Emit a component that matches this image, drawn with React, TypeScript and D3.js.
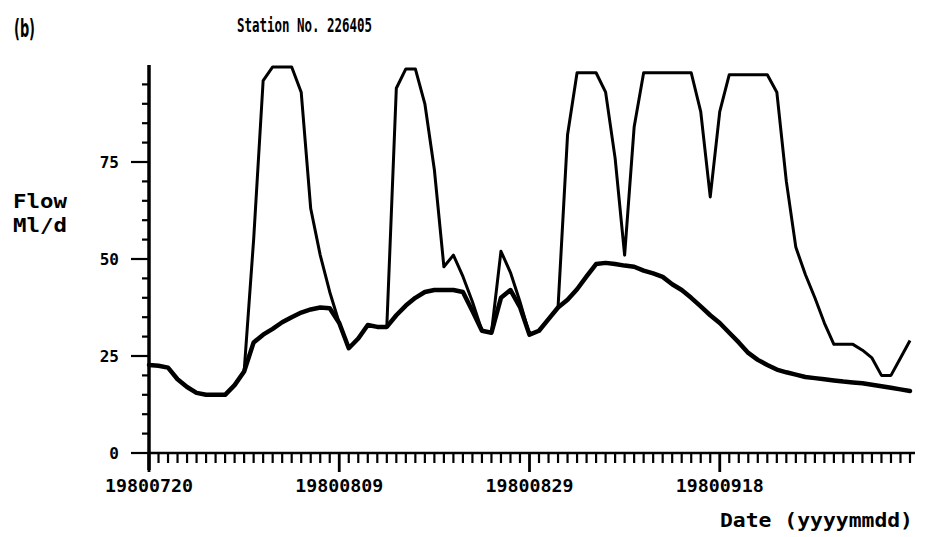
import React from "react";
import * as d3 from "d3";

// Daily flow record, Station No. 226405, starting 1980-07-20
const START_DATE = "19800720";
const TICK_LABELS = ["19800720", "19800809", "19800829", "19800918"];
const Y_LABELS = [0, 25, 50, 75];

// Lower (thick) series, Ml/d, one value per day
const baseFlow = [
  22.7, 22.5, 22, 19, 17, 15.5, 15, 15, 15, 17.5,
  21, 28.5, 30.5, 32, 33.7, 35, 36.2, 37, 37.5, 37.3,
  33.5, 27, 29.5, 33, 32.5, 32.5, 35.5, 38, 40, 41.5,
  42, 42, 42, 41.5, 36.6, 31.5, 31, 40, 42, 37.6,
  30.5, 31.5, 34.5, 37.5, 39.5, 42.2, 45.5, 48.7, 49, 48.7,
  48.3, 48, 47, 46.3, 45.4, 43.5, 42, 40, 37.8, 35.5,
  33.5, 31, 28.5, 25.8, 24, 22.7, 21.5, 20.8, 20.2, 19.6,
  19.3, 19, 18.7, 18.4, 18.2, 18, 17.6, 17.2, 16.8, 16.4,
  16,
];

// Upper (thin) series, Ml/d, one value per day
const totalFlow = [
  22.7, 22.5, 22, 19, 17, 15.5, 15, 15, 15, 17.5,
  21, 55, 96, 99.5, 99.5, 99.5, 93, 63, 51, 41.5,
  33.5, 27, 29.5, 33, 32.5, 32.5, 94, 99, 99, 90,
  73, 48, 51, 45.5, 39, 31.5, 31, 52, 46.5, 39,
  30.5, 31.5, 34.5, 37.5, 82, 98, 98, 98, 93, 76,
  51, 84, 98, 98, 98, 98, 98, 98, 88, 66,
  88, 97.5, 97.5, 97.5, 97.5, 97.5, 93, 70, 53, 46,
  40, 33.5, 28, 28, 28, 26.5, 24.5, 20, 20, 24.5,
  29,
];

const W = 926;
const H = 537;
const FONT = "'DejaVu Sans Mono', monospace";

export default function App() {
  const parse = d3.utcParse("%Y%m%d");
  const start = parse(START_DATE) as Date;
  const dates = baseFlow.map((_, i) => d3.utcDay.offset(start, i));
  const end = dates[dates.length - 1];

  const x = d3.scaleUtc().domain([start, end]).range([149, 910]);
  const y = d3.scaleLinear().domain([0, 100]).range([453, 65]);

  const line = d3
    .line<number>()
    .x((_, i) => x(dates[i]))
    .y((v) => y(v));

  const days = d3.utcDay.range(start, d3.utcDay.offset(end, 1));
  const majorDates = TICK_LABELS.map((s) => parse(s) as Date);
  const isMajor = (d: Date) => majorDates.some((m) => +m === +d);
  const yMinor = d3.range(0, 100, 5);

  const x0 = x(start);
  const yBase = y(0);

  return (
    <svg
      width={W}
      height={H}
      style={{ position: "absolute", left: 0, top: 0, background: "#fff" }}
    >
      <rect width={W} height={H} fill="#fff" />

      {/* Panel letter and title */}
      <text x={14} y={37} fontFamily="'DejaVu Sans', sans-serif" fontWeight="bold" fontSize={25} textLength={21} lengthAdjust="spacingAndGlyphs" fill="#000">
        (b)
      </text>
      <text x={237} y={32} fontFamily={FONT} fontWeight="bold" fontSize={20} textLength={135} lengthAdjust="spacingAndGlyphs" fill="#000">
        Station No. 226405
      </text>

      {/* Y axis title */}
      <text x={13} y={208} fontFamily={FONT} fontWeight="bold" fontSize={19} textLength={54} lengthAdjust="spacingAndGlyphs" fill="#000">
        Flow
      </text>
      <text x={13} y={232} fontFamily={FONT} fontWeight="bold" fontSize={19} textLength={54} lengthAdjust="spacingAndGlyphs" fill="#000">
        Ml/d
      </text>

      {/* Y axis */}
      <line x1={x0} x2={x0} y1={y(100)} y2={yBase + 17} stroke="#000" strokeWidth={3.5} />
      {yMinor.map((v) => {
        const major = Y_LABELS.includes(v);
        return (
          <line
            key={`yt${v}`}
            x1={x0}
            x2={x0 - (major ? 18 : 7)}
            y1={y(v)}
            y2={y(v)}
            stroke="#000"
            strokeWidth={2.2}
          />
        );
      })}
      {Y_LABELS.map((v) => (
        <text
          key={`yl${v}`}
          x={119}
          y={y(v) + 6}
          textAnchor="end"
          fontFamily={FONT}
          fontWeight="bold"
          fontSize={16}
          fill="#000"
        >
          {v}
        </text>
      ))}

      {/* X axis */}
      <line x1={x0} x2={915} y1={yBase} y2={yBase} stroke="#000" strokeWidth={2.5} />
      {days.map((d, i) => {
        const major = isMajor(d);
        return (
          <line
            key={`xt${i}`}
            x1={x(d)}
            x2={x(d)}
            y1={yBase}
            y2={yBase + (major ? 19 : 10)}
            stroke="#000"
            strokeWidth={major ? 2.8 : 2.2}
          />
        );
      })}
      {TICK_LABELS.map((s, i) => (
        <text
          key={`xl${s}`}
          x={x(majorDates[i])}
          y={492}
          textAnchor="middle"
          fontFamily={FONT}
          fontWeight="bold"
          fontSize={17}
          textLength={88}
          lengthAdjust="spacingAndGlyphs"
          fill="#000"
        >
          {s}
        </text>
      ))}
      <text x={720} y={527} fontFamily={FONT} fontWeight="bold" fontSize={20} textLength={193} lengthAdjust="spacingAndGlyphs" fill="#000">
        Date (yyyymmdd)
      </text>

      {/* Flow series */}
      <path d={line(totalFlow) ?? ""} fill="none" stroke="#000" strokeWidth={3} strokeLinejoin="round" />
      <path d={line(baseFlow) ?? ""} fill="none" stroke="#000" strokeWidth={4.5} strokeLinejoin="round" strokeLinecap="round" />
    </svg>
  );
}
